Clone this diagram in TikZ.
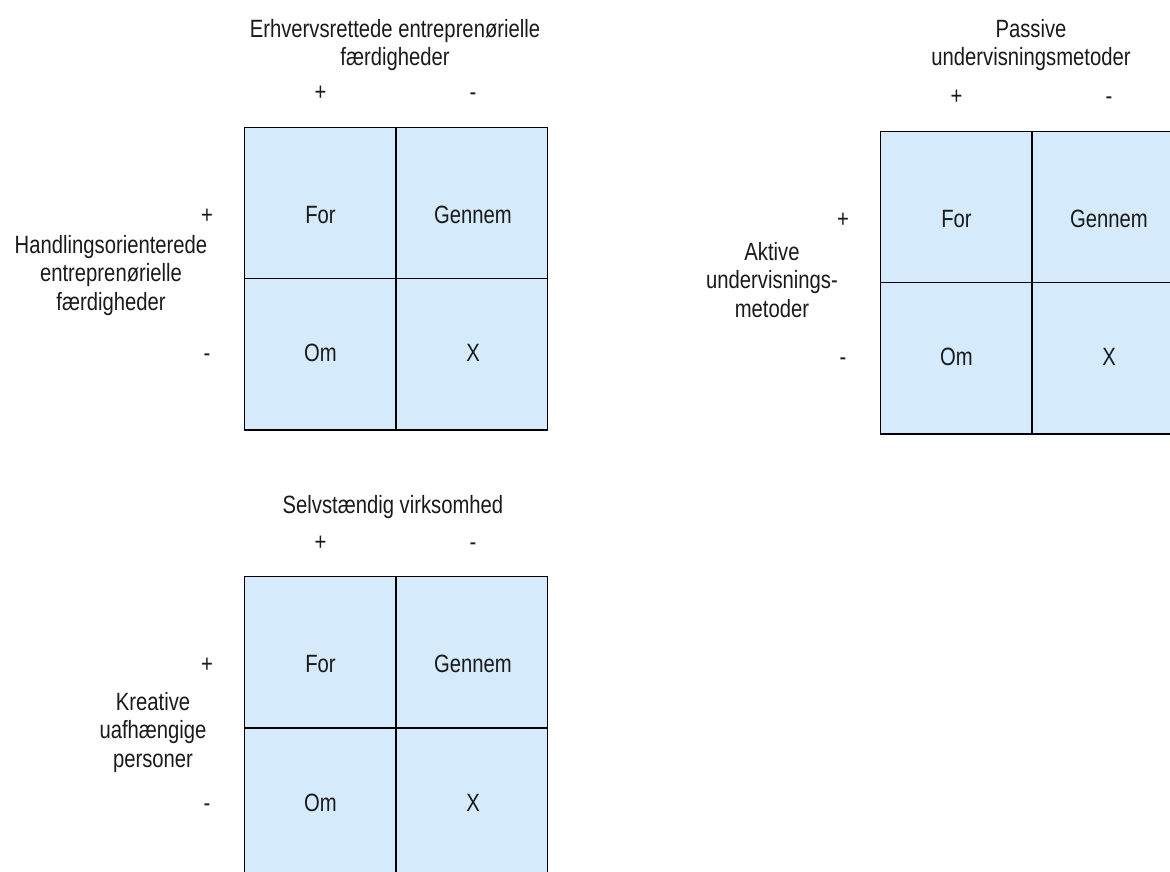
\documentclass[tikz,border=0pt]{standalone}
\usepackage{fontspec}
\setmainfont[FakeStretch=0.81]{Liberation Sans}
\definecolor{cellblue}{RGB}{213,234,250}
\definecolor{inkgray}{RGB}{26,26,26}
\tikzset{
  cell/.style={draw=black, line width=1.3pt, fill=cellblue,
    minimum width=151.3pt, minimum height=151.3pt, inner sep=0pt,
    anchor=north west},
  txt/.style={anchor=base, inner sep=0pt, text=inkgray,
    font=\fontsize{25}{28.5}\selectfont},
}
\begin{document}
\begin{tikzpicture}[x=1pt, y=-1pt]
\useasboundingbox (0,0) rectangle (1170,872);
\clip (0,0) rectangle (1170,872);

% three 2x2 matrices: name / left edge / top edge
\foreach \g/\gx/\gy in {1/244/126.7, 2/880/130.7, 3/244/576} {
  % cells
  \node[cell] (g\g-for)    at (\gx, \gy) {};
  \node[cell] (g\g-gennem) at (\gx+151.3, \gy) {};
  \node[cell] (g\g-om)     at (\gx, \gy+151.3) {};
  \node[cell] (g\g-x)      at (\gx+151.3, \gy+151.3) {};
  % cell texts
  \node[txt] (g\g-tfor)    at (\gx+76.5, \gy+96.5) {For};
  \node[txt] (g\g-tgennem) at (\gx+229,  \gy+96.5) {Gennem};
  \node[txt] (g\g-tom)     at (\gx+76.5, \gy+235) {Om};
  \node[txt] (g\g-tx)      at (\gx+229,  \gy+235) {X};
  % column signs
  \node[txt] (g\g-cp) at (\gx+76.5, \gy-26) {+};
  \node[txt] (g\g-cm) at (\gx+229,  \gy-26) {-};
  % row signs
  \node[txt] (g\g-rp) at (\gx-37, \gy+96.5) {+};
  \node[txt] (g\g-rm) at (\gx-37, \gy+235) {-};
}

% axis titles, first matrix
\node[txt] (t1a) at (395, 37.5) {Erhvervsrettede entreprenørielle};
\node[txt] (t1b) at (395, 66)   {færdigheder};
\node[txt] (s1a) at (111, 253)  {Handlingsorienterede};
\node[txt] (s1b) at (111, 281.5){entreprenørielle};
\node[txt] (s1c) at (111, 310)  {færdigheder};

% axis titles, second matrix
\node[txt] (t2a) at (1031, 37.5) {Passive};
\node[txt] (t2b) at (1031, 66)   {undervisningsmetoder};
\node[txt] (s2a) at (772, 260)   {Aktive};
\node[txt] (s2b) at (772, 288.5) {undervisnings-};
\node[txt] (s2c) at (772, 317)   {metoder};

% axis titles, third matrix
\node[txt] (t3a) at (393, 513)   {Selvstændig virksomhed};
\node[txt] (s3a) at (153, 710)   {Kreative};
\node[txt] (s3b) at (153, 738.5) {uafhængige};
\node[txt] (s3c) at (153, 767)   {personer};
\end{tikzpicture}
\end{document}
